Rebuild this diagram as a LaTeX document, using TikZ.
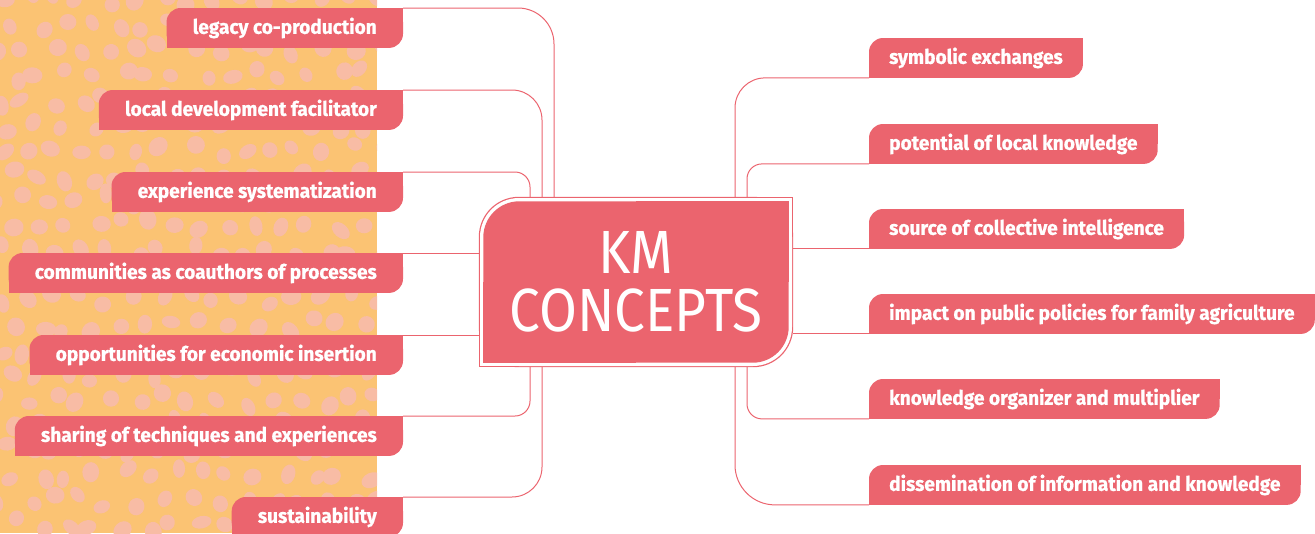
\documentclass[tikz,border=0pt]{standalone}
\usepackage{fontspec}
\usetikzlibrary{calc}
\newfontfamily\pillfont[FakeStretch=0.955,BoldFeatures={FakeStretch=0.955,FakeBold=0.8}]{Fira Sans}
\newfontfamily\kmfont[FakeStretch=0.9]{Fira Sans}
\definecolor{pillc}{RGB}{235,100,110}
\definecolor{orangebg}{RGB}{251,195,115}
\definecolor{blobc}{RGB}{248,188,165}
\pgfdeclarelayer{back}
\pgfdeclarelayer{bg}
\pgfsetlayers{back,bg,main}
\newcommand\pillshape[1]{%
  \begin{pgfonlayer}{bg}
    \fill[pillc,rounded corners=14pt] (#1.south west) rectangle (#1.north east);
    \fill[pillc] (#1.center) rectangle (#1.north east);
    \fill[pillc] (#1.south west) rectangle (#1.center);
  \end{pgfonlayer}}
\newcommand\tlbrshape[4]{%
  \fill[#4,rounded corners=#3] (#1) rectangle (#2);
  \fill[#4] (#1) rectangle ($(#1)!0.5!(#2)$);
  \fill[#4] ($(#1)!0.5!(#2)$) rectangle (#2);}
\tikzset{
  lpill/.style={anchor=north east, text=white, font=\pillfont\bfseries\fontsize{20}{22}\selectfont,
    inner xsep=26pt, inner ysep=0pt, minimum height=39.5pt},
  rpill/.style={anchor=north west, text=white, font=\pillfont\bfseries\fontsize{20}{22}\selectfont,
    inner xsep=20pt, inner ysep=0pt, minimum height=39.5pt},
  conn/.style={draw=pillc, line width=1pt},
}
\begin{document}
\begin{tikzpicture}[x=1pt,y=-1pt]
\useasboundingbox (0,0) rectangle (1315,533);
% background pattern
\begin{pgfonlayer}{back}
  \fill[orangebg] (0,0) rectangle (377,533);
  \begin{scope}
    \clip (0,0) rectangle (377,533);
    \pgfmathsetseed{11}
    \foreach \i in {0,...,14}{
      \foreach \j in {0,...,21}{
        \pgfmathsetmacro{\bx}{\i*27 + mod(\j,2)*13 + rand*8}
        \pgfmathsetmacro{\by}{\j*25 + rand*7}
        \pgfmathsetmacro{\ra}{9+rand*1.5}
        \pgfmathsetmacro{\rb}{7.5+rand*1.5}
        \pgfmathsetmacro{\rot}{rnd*180}
        \fill[blobc, rotate around={\rot:(\bx,\by)}] (\bx,\by) ellipse [x radius=\ra pt, y radius=\rb pt];
      }
    }
  \end{scope}
\end{pgfonlayer}

% central node
\node[inner sep=0pt, minimum width=314pt, minimum height=170pt, text=white,
      font=\kmfont\fontsize{61}{59}\selectfont, align=center] (km) at (636,282) {KM\\[-1pt]CONCEPTS};
\coordinate (o1) at (km.south west);
\coordinate (o2) at (km.north east);
\coordinate (w1) at ([xshift=1.2pt,yshift=1.2pt]km.south west);
\coordinate (w2) at ([xshift=-1.2pt,yshift=-1.2pt]km.north east);
\coordinate (f1) at ([xshift=4.5pt,yshift=4.5pt]km.south west);
\coordinate (f2) at ([xshift=-4.5pt,yshift=-4.5pt]km.north east);
\begin{pgfonlayer}{bg}
  \tlbrshape{o1}{o2}{40pt}{pillc}
  \tlbrshape{w1}{w2}{39pt}{white}
  \tlbrshape{f1}{f2}{36pt}{pillc}
\end{pgfonlayer}

% left pills
\node[lpill] (L1) at (403,8)   {legacy co-production};
\node[lpill] (L2) at (403,90)  {local development facilitator};
\node[lpill] (L3) at (403,172) {experience systematization};
\node[lpill] (L4) at (403,253) {communities as coauthors of processes};
\node[lpill] (L5) at (403,335) {opportunities for economic insertion};
\node[lpill] (L6) at (403,416) {sharing of techniques and experiences};
\node[lpill] (L7) at (403,497) {sustainability};
% right pills
\node[rpill] (R1) at (869,38)  {symbolic exchanges};
\node[rpill] (R2) at (869,124) {potential of local knowledge};
\node[rpill] (R3) at (869,209) {source of collective intelligence};
\node[rpill] (R4) at (869,294) {impact on public policies for family agriculture};
\node[rpill] (R5) at (869,379) {knowledge organizer and multiplier};
\node[rpill] (R6) at (869,465) {dissemination of information and knowledge};
\foreach \n in {L1,L2,L3,L4,L5,L6,L7,R1,R2,R3,R4,R5,R6}{\pillshape{\n}}

% connector x positions
\coordinate (xa) at (530,0);
\coordinate (xb) at (542,0);
\coordinate (xc) at (554,0);
\coordinate (xd) at (735,0);
\coordinate (xe) at (747,0);

\begin{pgfonlayer}{bg}
\draw[conn, rounded corners=36pt] (L1.north east) -| (km.north -| xc);
\draw[conn, rounded corners=30pt] (L2.north east) -| (km.north -| xb);
\draw[conn, rounded corners=15pt] (L3.north east) -| (km.north -| xa);
\draw[conn] (L4.north east) -- (L4.north east -| km.west);
\draw[conn] (L5.north east) -- (L5.north east -| km.west);
\draw[conn, rounded corners=15pt] (km.south -| xa) |- (L6.north east);
\draw[conn, rounded corners=30pt] (km.south -| xb) |- (L7.north east);

\draw[conn, rounded corners=30pt] (R1.south west) -| (km.north -| xd);
\draw[conn, rounded corners=15pt] (R2.south west) -| (km.north -| xe);
\draw[conn] (R3.south west) -- (R3.south west -| km.east);
\draw[conn] (R4.south west) -- (R4.south west -| km.east);
\draw[conn, rounded corners=15pt] (km.south -| xe) |- (R5.south west);
\draw[conn, rounded corners=40pt] (km.south -| xd) |- (R6.south west);
\end{pgfonlayer}
\end{tikzpicture}
\end{document}
